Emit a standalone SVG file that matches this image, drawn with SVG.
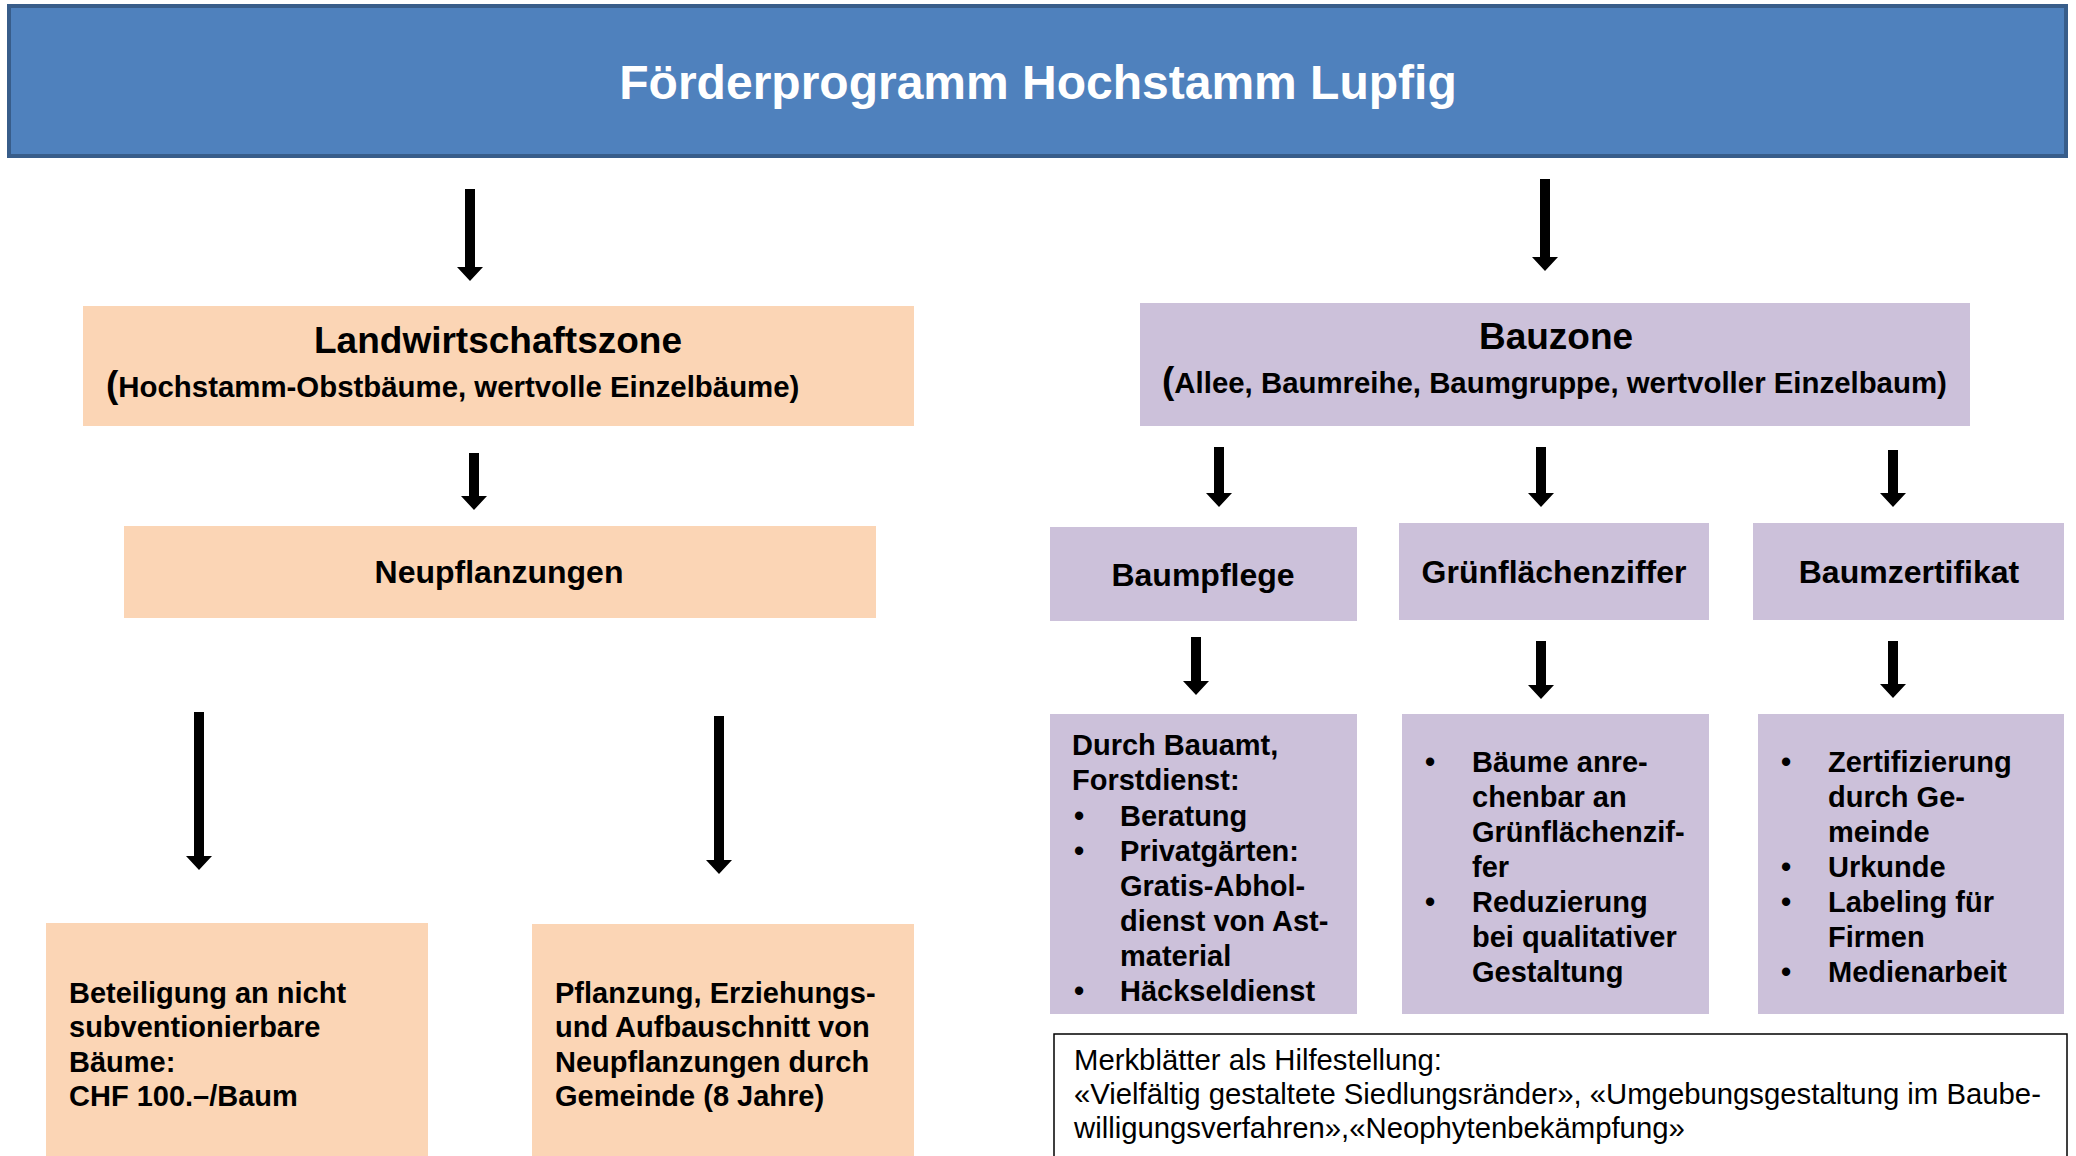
<svg xmlns="http://www.w3.org/2000/svg" width="2076" height="1156" viewBox="0 0 2076 1156">
<defs>
<style>
text{font-family:"Liberation Sans",Arial,sans-serif;fill:#000}
.h1{font-size:48px;font-weight:bold;fill:#fff}
.h2{font-size:37px;font-weight:bold}
.sub{font-size:29.4px;font-weight:bold}
.par{font-size:37px;font-weight:bold}
.h3{font-size:32px;font-weight:bold}
.t{font-size:29px;font-weight:bold}
.r{font-size:29.3px}
.orange{fill:#FBD5B5}
.lila{fill:#CCC1DA}
.arr{fill:#000}
</style>
</defs>
<rect width="2076" height="1156" fill="#fff"/>
<g id="title">
<rect x="9" y="6" width="2057" height="150" fill="#4F81BD" stroke="#385D8A" stroke-width="4"/>
<text class="h1" x="1038" y="99" text-anchor="middle">Förderprogramm Hochstamm Lupfig</text>
</g>
<g id="landwirtschaftszone">
<rect class="orange" x="83" y="306" width="831" height="120"/>
<text class="h2" x="498" y="353" text-anchor="middle">Landwirtschaftszone</text>
<text class="sub" x="106" y="397"><tspan class="par">(</tspan>Hochstamm-Obstbäume, wertvolle Einzelbäume)</text>
</g>
<g id="neupflanzungen">
<rect class="orange" x="124" y="526" width="752" height="92"/>
<text class="h3" x="499" y="583" text-anchor="middle">Neupflanzungen</text>
</g>
<g id="beteiligung">
<rect class="orange" x="46" y="923" width="382" height="240"/>
<text class="t" x="69" y="1003">Beteiligung an nicht</text>
<text class="t" x="69" y="1037">subventionierbare</text>
<text class="t" x="69" y="1072">Bäume:</text>
<text class="t" x="69" y="1106">CHF 100.–/Baum</text>
</g>
<g id="pflanzung">
<rect class="orange" x="532" y="924" width="382" height="240"/>
<text class="t" x="555" y="1003">Pflanzung, Erziehungs-</text>
<text class="t" x="555" y="1037">und Aufbauschnitt von</text>
<text class="t" x="555" y="1072">Neupflanzungen durch</text>
<text class="t" x="555" y="1106">Gemeinde (8 Jahre)</text>
</g>
<g id="bauzone">
<rect class="lila" x="1140" y="303" width="830" height="123"/>
<text class="h2" x="1556" y="349" text-anchor="middle">Bauzone</text>
<text class="sub" x="1162" y="393"><tspan class="par">(</tspan>Allee, Baumreihe, Baumgruppe, wertvoller Einzelbaum)</text>
</g>
<g id="baumpflege">
<rect class="lila" x="1050" y="527" width="307" height="94"/>
<text class="h3" x="1203" y="586" text-anchor="middle">Baumpflege</text>
</g>
<g id="gruenflaechenziffer">
<rect class="lila" x="1399" y="523" width="310" height="97"/>
<text class="h3" x="1554" y="583" text-anchor="middle">Grünflächenziffer</text>
</g>
<g id="baumzertifikat">
<rect class="lila" x="1753" y="523" width="311" height="97"/>
<text class="h3" x="1909" y="583" text-anchor="middle">Baumzertifikat</text>
</g>
<g id="baumpflege-details">
<rect class="lila" x="1050" y="714" width="307" height="300"/>
<text class="t" x="1072" y="755">Durch Bauamt,</text>
<text class="t" x="1072" y="790">Forstdienst:</text>
<text class="t" x="1074" y="826">•</text><text class="t" x="1120" y="826">Beratung</text>
<text class="t" x="1074" y="861">•</text><text class="t" x="1120" y="861">Privatgärten:</text>
<text class="t" x="1120" y="896">Gratis-Abhol-</text>
<text class="t" x="1120" y="931">dienst von Ast-</text>
<text class="t" x="1120" y="966">material</text>
<text class="t" x="1074" y="1001">•</text><text class="t" x="1120" y="1001">Häckseldienst</text>
</g>
<g id="gruenflaechen-details">
<rect class="lila" x="1402" y="714" width="307" height="300"/>
<text class="t" x="1425" y="772">•</text><text class="t" x="1472" y="772">Bäume anre-</text>
<text class="t" x="1472" y="807">chenbar an</text>
<text class="t" x="1472" y="842">Grünflächenzif-</text>
<text class="t" x="1472" y="877">fer</text>
<text class="t" x="1425" y="912">•</text><text class="t" x="1472" y="912">Reduzierung</text>
<text class="t" x="1472" y="947">bei qualitativer</text>
<text class="t" x="1472" y="982">Gestaltung</text>
</g>
<g id="zertifikat-details">
<rect class="lila" x="1758" y="714" width="306" height="300"/>
<text class="t" x="1781" y="772">•</text><text class="t" x="1828" y="772">Zertifizierung</text>
<text class="t" x="1828" y="807">durch Ge-</text>
<text class="t" x="1828" y="842">meinde</text>
<text class="t" x="1781" y="877">•</text><text class="t" x="1828" y="877">Urkunde</text>
<text class="t" x="1781" y="912">•</text><text class="t" x="1828" y="912">Labeling für</text>
<text class="t" x="1828" y="947">Firmen</text>
<text class="t" x="1781" y="982">•</text><text class="t" x="1828" y="982">Medienarbeit</text>
</g>
<g id="merkblaetter">
<rect x="1054" y="1034" width="1013" height="140" fill="#fff" stroke="#000" stroke-width="1.5"/>
<text class="r" x="1074" y="1070">Merkblätter als Hilfestellung:</text>
<text class="r" x="1074" y="1104">«Vielfältig gestaltete Siedlungsränder», «Umgebungsgestaltung im Baube-</text>
<text class="r" x="1074" y="1138">willigungsverfahren»,«Neophytenbekämpfung»</text>
</g>
<g id="connectors">
<path class="arr" d="M465,189 h10 v78 h8 l-13,14 l-13,-14 h8 z"/>
<path class="arr" d="M1540,179 h10 v78 h8 l-13,14 l-13,-14 h8 z"/>
<path class="arr" d="M469,453 h10 v43 h8 l-13,14 l-13,-14 h8 z"/>
<path class="arr" d="M194,712 h10 v144 h8 l-13,14 l-13,-14 h8 z"/>
<path class="arr" d="M714,716 h10 v144 h8 l-13,14 l-13,-14 h8 z"/>
<path class="arr" d="M1214,447 h10 v46 h8 l-13,14 l-13,-14 h8 z"/>
<path class="arr" d="M1536,447 h10 v46 h8 l-13,14 l-13,-14 h8 z"/>
<path class="arr" d="M1888,450 h10 v43 h8 l-13,14 l-13,-14 h8 z"/>
<path class="arr" d="M1191,637 h10 v44 h8 l-13,14 l-13,-14 h8 z"/>
<path class="arr" d="M1536,641 h10 v44 h8 l-13,14 l-13,-14 h8 z"/>
<path class="arr" d="M1888,641 h10 v43 h8 l-13,14 l-13,-14 h8 z"/>
</g>
</svg>
